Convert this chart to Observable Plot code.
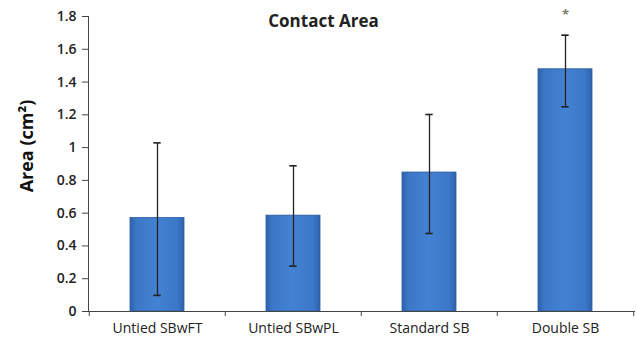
<!DOCTYPE html>
<html>
<head>
<meta charset="utf-8">
<script src="https://cdn.jsdelivr.net/npm/d3@7"></script>
<script src="https://cdn.jsdelivr.net/npm/@observablehq/plot@0.6"></script>
<style>
  html, body { margin: 0; padding: 0; background: #fff; }
  svg { display: block; }
</style>
</head>
<body>
<div id="chart"></div>
<script>
const categories = ["Untied SBwFT", "Untied SBwPL", "Standard SB", "Double SB"];
const means = [0.57, 0.585, 0.848, 1.478];
const errLow = [0.098, 0.277, 0.476, 1.249];
const errHigh = [1.029, 0.889, 1.202, 1.686];
const marks = ["", "", "", "*"];
const yTicks = [0, 0.2, 0.4, 0.6, 0.8, 1, 1.2, 1.4, 1.6, 1.8];
const title = "Contact Area";
const yLabel = "Area (cm²)";

const data = categories.map((c, i) => ({cat: c, mean: means[i], lo: errLow[i], hi: errHigh[i], mark: marks[i]}));

const W = 638, H = 343, mL = 88, mR = 4, mT = 16, mB = 32;
const step = (W - mL - mR) / categories.length;
const font = "'Open Sans', sans-serif";

const plot = Plot.plot({
  width: W, height: H,
  marginLeft: mL, marginRight: mR, marginTop: mT, marginBottom: mB,
  style: {fontFamily: font, fontSize: "14px", color: "#222", background: "#fff"},
  x: {domain: categories, paddingInner: 0.6, paddingOuter: 0.3, label: null},
  y: {domain: [0, 1.8], label: null},
  marks: [
    Plot.barY(data, {x: "cat", y: "mean", fill: "url(#barGrad)", stroke: "#2b5d9e", strokeWidth: 0.8}),
    Plot.ruleX(data, {x: "cat", y1: "lo", y2: "hi", stroke: "#222", strokeWidth: 1.3}),
    Plot.tickY(data, {x: "cat", y: "lo", stroke: "#222", strokeWidth: 1.6, insetLeft: step * 0.2 - 4, insetRight: step * 0.2 - 4}),
    Plot.tickY(data, {x: "cat", y: "hi", stroke: "#222", strokeWidth: 1.6, insetLeft: step * 0.2 - 4, insetRight: step * 0.2 - 4}),
    Plot.text(data, {x: "cat", y: "hi", text: "mark", dy: -20, fill: "#7d7d6a", fontSize: 13, fontWeight: "bold", clip: false}),
    Plot.frame({anchor: "left", stroke: "#444"}),
    Plot.frame({anchor: "bottom", stroke: "#444"}),
    Plot.axisY({ticks: yTicks, tickFormat: d3.format("~g"), tickSize: 6, tickPadding: 6, fontSize: 14, fontWeight: 600, stroke: "#444", fill: "#222", label: null}),
    Plot.axisX({tickSize: 0, tickPadding: 12, fontSize: 14, fill: "#222", label: null}),
    Plot.axisX({tickSize: 5, tickFormat: () => "", dx: -step / 2, stroke: "#444", label: null}),
    Plot.axisX({ticks: [categories[categories.length - 1]], tickSize: 5, tickFormat: () => "", dx: step / 2, stroke: "#444", label: null}),
    Plot.text([title], {frameAnchor: "top", dx: -38, dy: -2, fontSize: 17, fontWeight: "bold", fill: "#222"}),
    Plot.text([yLabel], {frameAnchor: "left", textAnchor: "middle", rotate: -90, dx: -61, dy: -18, fontSize: 18, fontWeight: "bold", fill: "#111"})
  ]
});

const svg = d3.select(plot);
const defs = svg.insert("defs", ":first-child");
const g = defs.append("linearGradient").attr("id", "barGrad").attr("x1", "0").attr("x2", "1").attr("y1", "0").attr("y2", "0");
g.append("stop").attr("offset", "0%").attr("stop-color", "#2d62ad");
g.append("stop").attr("offset", "12%").attr("stop-color", "#3b77c6");
g.append("stop").attr("offset", "50%").attr("stop-color", "#4382d2");
g.append("stop").attr("offset", "88%").attr("stop-color", "#3b77c6");
g.append("stop").attr("offset", "100%").attr("stop-color", "#2d62ad");

document.getElementById("chart").appendChild(plot);
</script>
</body>
</html>
